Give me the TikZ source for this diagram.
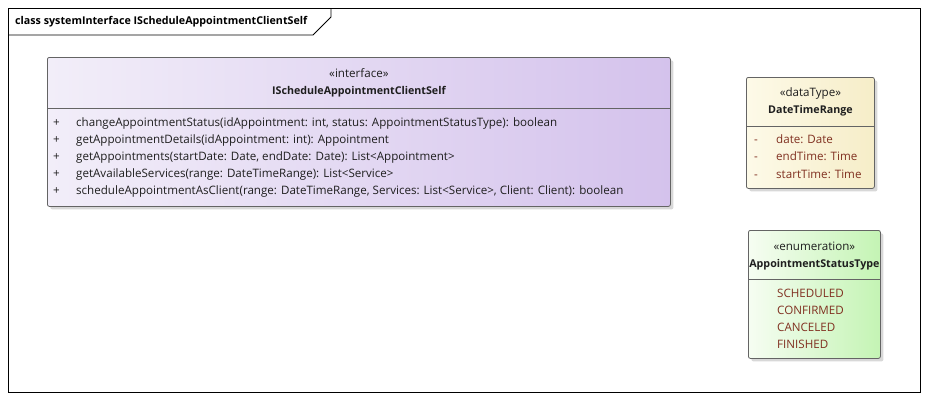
\documentclass[tikz,border=0pt]{standalone}
\usepackage{fontspec}
\setmainfont{Open Sans}
\usetikzlibrary{positioning,calc,shadows}

\definecolor{boxgray}{RGB}{100,100,100}
\definecolor{ifaceleft}{RGB}{242,238,249}
\definecolor{ifaceright}{RGB}{212,194,236}
\definecolor{dtleft}{RGB}{253,250,232}
\definecolor{dtright}{RGB}{246,237,200}
\definecolor{enumleft}{RGB}{246,253,242}
\definecolor{enumright}{RGB}{196,244,180}
\definecolor{attrred}{RGB}{128,48,32}
\definecolor{optext}{RGB}{30,30,30}

\begin{document}
\begin{tikzpicture}[
  x=1pt, y=-1pt,
  font=\fontsize{11.6}{13}\selectfont,
  classbox/.style={
    draw=boxgray,
    rounded corners=2pt,
    line width=0.8pt,
    anchor=north west,
    inner sep=0pt,
    drop shadow={shadow xshift=3pt, shadow yshift=-3pt, fill=black!30, opacity=0.5}
  },
  sep/.style={draw=boxgray, line width=0.8pt},
  stereo/.style={inner sep=0pt, text=optext},
  cname/.style={inner sep=0pt, font=\fontsize{10.7}{13}\selectfont\bfseries, text=optext},
  member/.style={inner sep=0pt, anchor=west, text height=9pt, text depth=3pt, text=optext},
  attr/.style={member, text=attrred},
  frameline/.style={line width=0.9pt}
]
\useasboundingbox (0,0) rectangle (928,400);

% Diagram frame
\draw[frameline] (8,8) rectangle (920,392);
\draw[frameline] (8,35) -- (313,35) -- (331,17) -- (331,8);
\node[inner sep=0pt, anchor=west, font=\fontsize{10.7}{13}\selectfont\bfseries] (title) at (15,21.5)
  {class systemInterface IScheduleAppointmentClientSelf};

% Interface class
\node[classbox, left color=ifaceleft, right color=ifaceright,
  minimum width=623pt, minimum height=149pt] (iface) at (47,57) {};
\node[stereo] (ifacest) at ($(iface.north)+(0,16.5)$) {«interface»};
\node[cname] (ifacename) at ($(iface.north)+(0,34.5)$) {IScheduleAppointmentClientSelf};
\draw[sep] ($(iface.north west)+(0,51)$) -- ($(iface.north east)+(0,51)$);
\node[member] (op1) at ($(iface.north west)+(6,66.5)$) {\makebox[23pt][l]{+}changeAppointmentStatus(idAppointment: int, status: AppointmentStatusType): boolean};
\node[member] (op2) at ($(iface.north west)+(6,83.5)$) {\makebox[23pt][l]{+}getAppointmentDetails(idAppointment: int): Appointment};
\node[member] (op3) at ($(iface.north west)+(6,100.5)$) {\makebox[23pt][l]{+}getAppointments(startDate: Date, endDate: Date): List<Appointment>};
\node[member] (op4) at ($(iface.north west)+(6,117.5)$) {\makebox[23pt][l]{+}getAvailableServices(range: DateTimeRange): List<Service>};
\node[member] (op5) at ($(iface.north west)+(6,134.5)$) {\makebox[23pt][l]{+}scheduleAppointmentAsClient(range: DateTimeRange, Services: List<Service>, Client: Client): boolean};

% DataType class
\node[classbox, left color=dtleft, right color=dtright,
  minimum width=128pt, minimum height=111pt] (dtr) at (746,77) {};
\node[stereo] (dtrst) at ($(dtr.north)+(0,16.5)$) {«dataType»};
\node[cname] (dtrname) at ($(dtr.north)+(0,33.5)$) {DateTimeRange};
\draw[sep] ($(dtr.north west)+(0,49)$) -- ($(dtr.north east)+(0,49)$);
\node[attr] (at1) at ($(dtr.north west)+(8,63.5)$) {\makebox[22pt][l]{-}date: Date};
\node[attr] (at2) at ($(dtr.north west)+(8,80.5)$) {\makebox[22pt][l]{-}endTime: Time};
\node[attr] (at3) at ($(dtr.north west)+(8,98.5)$) {\makebox[22pt][l]{-}startTime: Time};

% Enumeration
\node[classbox, left color=enumleft, right color=enumright,
  minimum width=132pt, minimum height=128pt] (stat) at (748,230) {};
\node[stereo] (statst) at ($(stat.north)+(0,16.5)$) {«enumeration»};
\node[cname] (statname) at ($(stat.north)+(0,34.5)$) {AppointmentStatusType};
\draw[sep] ($(stat.north west)+(0,49)$) -- ($(stat.north east)+(0,49)$);
\node[attr] (lit1) at ($(stat.north west)+(29,64.5)$) {SCHEDULED};
\node[attr] (lit2) at ($(stat.north west)+(29,81.5)$) {CONFIRMED};
\node[attr] (lit3) at ($(stat.north west)+(29,98.5)$) {CANCELED};
\node[attr] (lit4) at ($(stat.north west)+(29,115.5)$) {FINISHED};

\end{tikzpicture}
\end{document}
